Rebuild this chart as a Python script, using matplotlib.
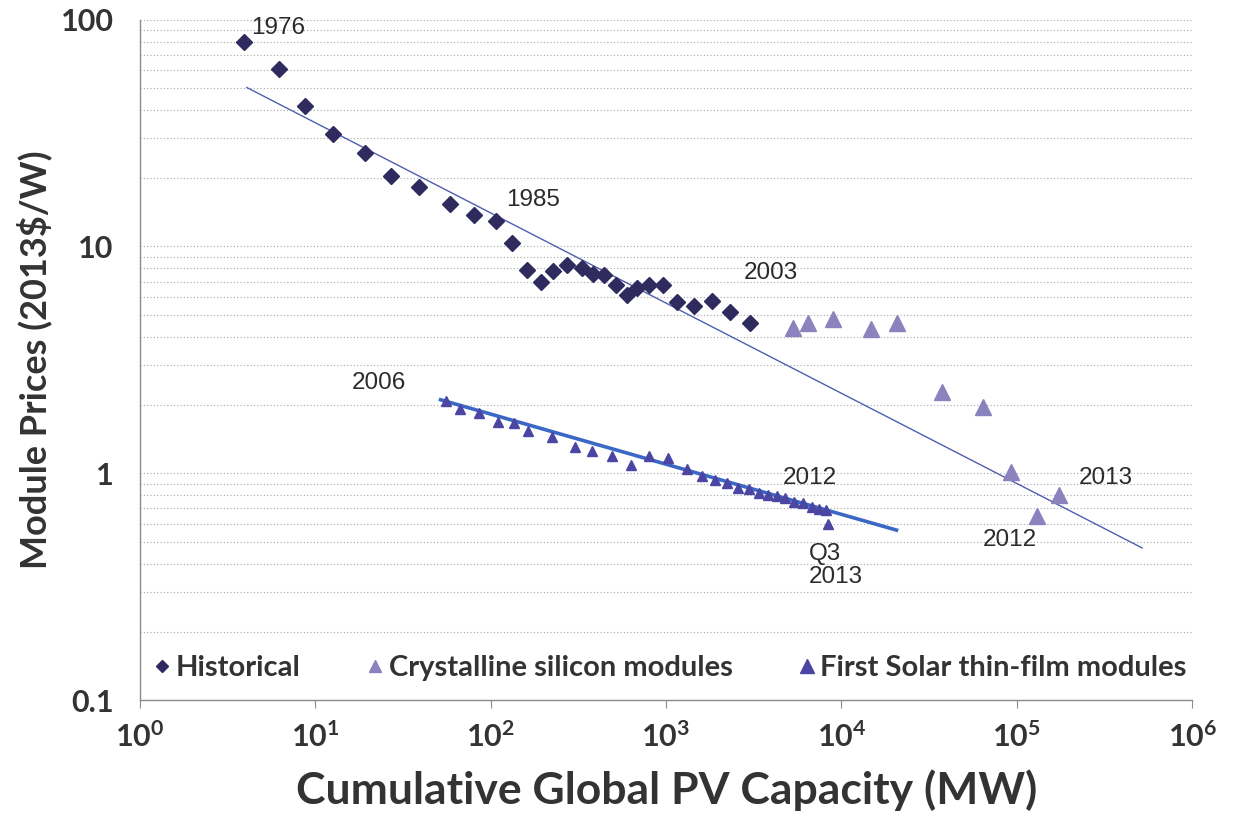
"""PV module price learning curve (log-log)."""

import matplotlib

matplotlib.use("Agg")

import matplotlib.pyplot as plt
from matplotlib.ticker import FixedLocator, FixedFormatter, LogLocator, NullFormatter

# --- data ----------------------------------------------------------------
hist_mw = [3.9, 6.25, 8.7, 12.7, 19.3, 27.1, 38.9, 58.5, 80.3, 107, 132,
           162, 193, 228, 274, 331, 381, 444, 518, 596, 683, 803, 957,
           1156, 1439, 1824, 2330, 3020]
hist_price = [80, 60.8, 41.8, 31.3, 25.8, 20.4, 18.2, 15.4, 13.7, 13.0, 10.4,
              7.89, 6.97, 7.76, 8.30, 8.07, 7.59, 7.50, 6.78, 6.12, 6.55, 6.78, 6.78,
              5.69, 5.47, 5.72, 5.14, 4.59]

csi_mw = [5300, 6460, 8960, 14700, 20800, 37300, 64500, 92700, 130000, 174600]
csi_price = [4.36, 4.62, 4.79, 4.33, 4.62, 2.29, 1.96, 1.01, 0.65, 0.80]

fs_mw = [55.8, 67.2, 85.9, 110, 136, 163, 225, 304, 379, 489, 630, 800, 1023,
         1318, 1600, 1908, 2240, 2576, 2958, 3396, 3812, 4278, 4797, 5385,
         6053, 6780, 7430, 8150, 8350]
fs_price = [2.09, 1.92, 1.84, 1.69, 1.66, 1.53, 1.45, 1.30, 1.25, 1.19, 1.09,
            1.19, 1.17, 1.04, 0.975, 0.935, 0.904, 0.859, 0.85, 0.817, 0.80,
            0.795, 0.776, 0.75, 0.74, 0.713, 0.694, 0.689, 0.598]

# experience-curve trend lines (end points)
hist_trend_mw = [4.07, 518000]
hist_trend_price = [50.2, 0.469]
fs_trend_mw = [51.8, 20600]
fs_trend_price = [2.11, 0.562]

# year annotations: (text, x, y)
year_labels = [
    ("1976", 6.15, 92),
    ("1985", 174, 16.0),
    ("2003", 3981, 7.64),
    ("2006", 22.9, 2.51),
    ("2012", 6592, 0.95),
    ("2012", 91600, 0.508),
    ("2013", 322700, 0.95),
]
q3_label = ("Q3\n2013", 6550, 0.392)

x_ticks = [1, 10, 100, 1e3, 1e4, 1e5, 1e6]
x_tick_labels = [r"$10^{%d}$" % i for i in range(7)]
y_ticks = [0.1, 1, 10, 100]
y_tick_labels = ["0.1", "1", "10", "100"]

# --- style ---------------------------------------------------------------
HIST = "#2F2B5E"
CSI = "#8A83BE"
FIRST_SOLAR = "#4B45A3"
TREND = "#4F5FAE"
FS_TREND = "#3A68C4"
GRID = "#A8A8A8"
AXIS = "#8C8C8C"
TEXT = "#2B2B2B"
LABEL = "#333333"

plt.rcParams["mathtext.fontset"] = "custom"
plt.rcParams["mathtext.rm"] = "Lato:bold"
plt.rcParams["mathtext.it"] = "Lato:bold"
plt.rcParams["mathtext.bf"] = "Lato:bold"

fig = plt.figure(figsize=(12.38, 8.17), dpi=100)
ax = fig.add_axes([0.113, 0.143, 0.850, 0.833])

ax.plot(hist_trend_mw, hist_trend_price, color=TREND, linewidth=1.0, zorder=2)
ax.plot(fs_trend_mw, fs_trend_price, color=FS_TREND, linewidth=2.6, zorder=2)

ax.plot(hist_mw, hist_price, linestyle="none", marker="D", markersize=8,
        color=HIST, label="Historical", zorder=3)
ax.plot(csi_mw, csi_price, linestyle="none", marker="^", markersize=11,
        color=CSI, label="Crystalline silicon modules", zorder=3)
ax.plot(fs_mw, fs_price, linestyle="none", marker="^", markersize=7.5,
        color=FIRST_SOLAR, label="First Solar thin-film modules", zorder=3)

for text, x, y in year_labels:
    ax.text(x, y, text, fontsize=17.5, color=TEXT, ha="center", va="center",
            family="Liberation Sans")
ax.text(q3_label[1], q3_label[2], q3_label[0], fontsize=17.5, color=TEXT,
        ha="left", va="center", family="Liberation Sans", linespacing=1.1)

ax.set_xscale("log")
ax.set_yscale("log")
ax.set_xlim(1, 1e6)
ax.set_ylim(0.1, 100)

ax.xaxis.set_major_locator(FixedLocator(x_ticks))
ax.xaxis.set_major_formatter(FixedFormatter(x_tick_labels))
ax.xaxis.set_minor_locator(FixedLocator([]))
ax.yaxis.set_major_locator(FixedLocator(y_ticks))
ax.yaxis.set_major_formatter(FixedFormatter(y_tick_labels))
ax.yaxis.set_minor_locator(LogLocator(base=10, subs=range(2, 10)))
ax.yaxis.set_minor_formatter(NullFormatter())

ax.grid(axis="y", which="both", color=GRID, linestyle=(0, (1, 2)), linewidth=0.8)
ax.set_axisbelow(True)

ax.tick_params(axis="x", which="major", length=6, color=AXIS, direction="out",
               labelsize=22, labelcolor=LABEL, pad=10)
ax.tick_params(axis="y", which="both", length=0, labelsize=22, labelcolor=LABEL,
               pad=19)
for label in ax.get_yticklabels():
    label.set_fontfamily("Lato")
    label.set_fontweight("bold")

for side in ("top", "right"):
    ax.spines[side].set_visible(False)
for side in ("left", "bottom"):
    ax.spines[side].set_color(AXIS)
    ax.spines[side].set_linewidth(1.0)

ax.set_xlabel("Cumulative Global PV Capacity (MW)", fontsize=32, family="Lato",
              fontweight="bold", color=LABEL)
ax.set_ylabel("Module Prices (2013$/W)", fontsize=26, family="Lato",
              fontweight="bold", color=LABEL)
ax.xaxis.set_label_coords(0.501, -0.101)
ax.yaxis.set_label_coords(-0.083, 0.5)

legend = ax.legend(loc="center", bbox_to_anchor=(0.504, 0.047), ncol=3,
                   frameon=False, handlelength=0.6, handletextpad=0.15,
                   columnspacing=2.27,
                   prop={"family": "Lato", "weight": "bold", "size": 21},
                   labelcolor=LABEL)
for handle, size in zip(legend.legend_handles, (6, 9, 10)):
    handle.set_markersize(size)

fig.savefig("out.png", dpi=100)
